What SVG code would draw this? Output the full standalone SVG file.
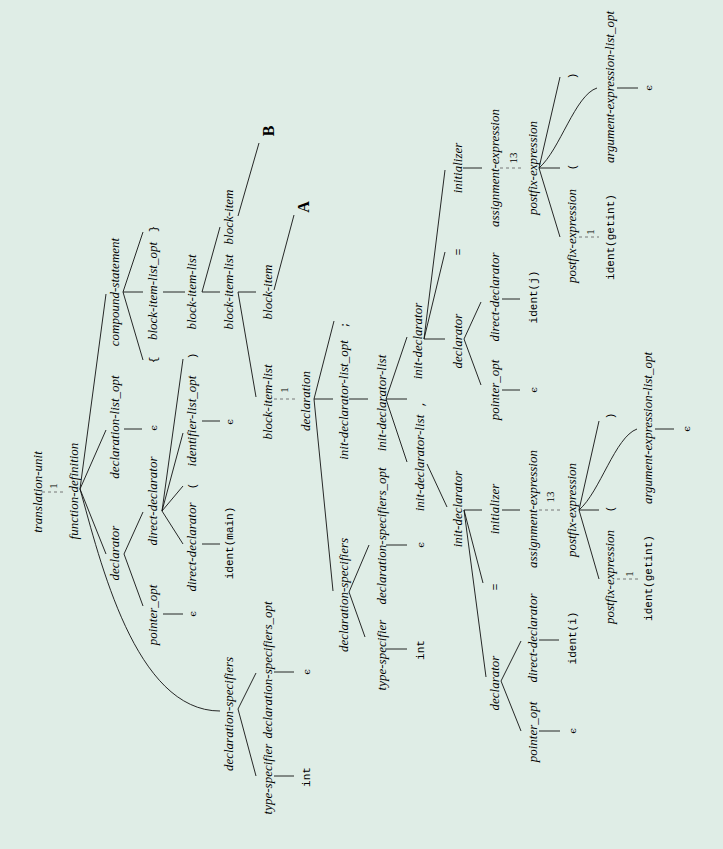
<svg xmlns="http://www.w3.org/2000/svg" width="723" height="849" viewBox="0 0 723 849">
<style>
.n{font-family:"Liberation Serif",serif;font-style:italic;font-size:13px;fill:#000;text-anchor:middle}
.t{font-family:"Liberation Mono",monospace;font-size:11px;fill:#000;text-anchor:middle}
.e{font-family:"DejaVu Serif","Liberation Serif",serif;font-size:10px;fill:#000;text-anchor:middle}
.l{font-family:"Liberation Serif",serif;font-size:11px;fill:#000;text-anchor:middle}
.b{font-family:"Liberation Serif",serif;font-weight:bold;font-size:16px;fill:#000;text-anchor:middle}
.edge{stroke:#111;stroke-width:0.9;fill:none}
.dash{stroke:#777;stroke-width:1;stroke-dasharray:3 3;fill:none}
</style>
<rect width="723" height="849" fill="#dfede6"/>
<g id="connectors">
<path class="dash" d="M42,492 L63,492"/>
<path class="edge" d="M80,489 C100,560 135,711 220,711"/>
<path class="edge" d="M80,489 L106,554"/>
<path class="edge" d="M80,489 L106,430"/>
<path class="edge" d="M80,489 L106,294"/>
<path class="edge" d="M238,709 L256,776"/>
<path class="edge" d="M238,709 L256,673"/>
<path class="edge" d="M274,776 L294,776"/>
<path class="edge" d="M274,672 L294,672"/>
<path class="edge" d="M124,554 L143,606"/>
<path class="edge" d="M124,554 L143,512"/>
<path class="edge" d="M163,614 L183,614"/>
<path class="edge" d="M162,511 L183,544"/>
<path class="edge" d="M162,511 L183,486"/>
<path class="edge" d="M162,511 L183,433"/>
<path class="edge" d="M162,511 L183,359"/>
<path class="edge" d="M202,544 L220,544"/>
<path class="edge" d="M202,421 L220,421"/>
<path class="edge" d="M124,429 L142,429"/>
<path class="edge" d="M123,292 L143,360"/>
<path class="edge" d="M123,292 L143,292"/>
<path class="edge" d="M123,292 L143,232"/>
<path class="edge" d="M163,292 L185,292"/>
<path class="edge" d="M202,292 L220,292"/>
<path class="edge" d="M202,292 L220,227"/>
<path class="edge" d="M238,216 L259,143"/>
<path class="edge" d="M238,292 L256,397"/>
<path class="edge" d="M238,292 L256,292"/>
<path class="edge" d="M274,290 L294,215"/>
<path class="dash" d="M274,399 L296,399"/>
<path class="edge" d="M314,399 L333,591"/>
<path class="edge" d="M314,399 L333,399"/>
<path class="edge" d="M314,399 L334,321"/>
<path class="edge" d="M349,592 L369,545"/>
<path class="edge" d="M349,592 L365,637"/>
<path class="edge" d="M386,545 L407,545"/>
<path class="edge" d="M386,649 L407,649"/>
<path class="edge" d="M349,399 L368,399"/>
<path class="edge" d="M386,399 L407,462"/>
<path class="edge" d="M386,399 L407,399"/>
<path class="edge" d="M386,399 L407,337"/>
<path class="edge" d="M427,464 L447,507"/>
<path class="edge" d="M464,510 L486,677"/>
<path class="edge" d="M464,510 L483,583"/>
<path class="edge" d="M464,510 L482,510"/>
<path class="edge" d="M502,510 L520,510"/>
<path class="dash" d="M539,510 L560,510"/>
<path class="edge" d="M579,510 L599,579"/>
<path class="edge" d="M579,510 L599,510"/>
<path class="edge" d="M579,510 C600,492 615,437 637,429"/>
<path class="edge" d="M579,510 L599,421"/>
<path class="dash" d="M617,579 L639,579"/>
<path class="edge" d="M655,429 L674,429"/>
<path class="edge" d="M501,681 L521,641"/>
<path class="edge" d="M501,681 L521,731"/>
<path class="edge" d="M539,640 L559,640"/>
<path class="edge" d="M539,731 L560,731"/>
<path class="edge" d="M424,339 L445,339"/>
<path class="edge" d="M424,339 L445,252"/>
<path class="edge" d="M424,339 L445,170"/>
<path class="edge" d="M463,168 L482,168"/>
<path class="dash" d="M500,168 L522,168"/>
<path class="edge" d="M539,168 L560,237"/>
<path class="edge" d="M539,168 L560,168"/>
<path class="edge" d="M539,168 C560,150 575,95 597,88"/>
<path class="edge" d="M539,168 L560,77"/>
<path class="dash" d="M579,237 L599,237"/>
<path class="edge" d="M617,88 L638,88"/>
<path class="edge" d="M464,339 L481,302"/>
<path class="edge" d="M464,339 L481,385"/>
<path class="edge" d="M502,299 L520,299"/>
<path class="edge" d="M502,390 L520,390"/>
<text class="l" x="57" y="486" transform="rotate(-90 57 486)">1</text>
<text class="l" x="288" y="390" transform="rotate(-90 288 390)">1</text>
<text class="l" x="554" y="497" transform="rotate(-90 554 497)">13</text>
<text class="l" x="517" y="158" transform="rotate(-90 517 158)">13</text>
<text class="l" x="633" y="574" transform="rotate(-90 633 574)">1</text>
<text class="l" x="594" y="232" transform="rotate(-90 594 232)">1</text>
</g>
<g id="translation-unit"><text class="n" x="42" y="492" transform="rotate(-90 42 492)">translation-unit</text></g>
<g id="function-definition"><text class="n" x="78" y="491" transform="rotate(-90 78 491)">function-definition</text></g>
<g id="declaration-specifiers-1"><text class="n" x="233" y="714" transform="rotate(-90 233 714)">declaration-specifiers</text></g>
<g id="type-specifier-1"><text class="n" x="272" y="779" transform="rotate(-90 272 779)">type-specifier</text></g>
<g id="int-1"><text class="t" x="310" y="777" transform="rotate(-90 310 777)">int</text></g>
<g id="declaration-specifiers-opt-1"><text class="n" x="272" y="670" transform="rotate(-90 272 670)">declaration-specifiers_opt</text></g>
<g id="eps-1"><text class="e" x="310" y="672" transform="rotate(-90 310 672)">ϵ</text></g>
<g id="declarator-1"><text class="n" x="119" y="553" transform="rotate(-90 119 553)">declarator</text></g>
<g id="pointer-opt-1"><text class="n" x="157" y="615" transform="rotate(-90 157 615)">pointer_opt</text></g>
<g id="eps-2"><text class="e" x="196" y="614" transform="rotate(-90 196 614)">ϵ</text></g>
<g id="direct-declarator-1"><text class="n" x="157" y="501" transform="rotate(-90 157 501)">direct-declarator</text></g>
<g id="direct-declarator-2"><text class="n" x="196" y="547" transform="rotate(-90 196 547)">direct-declarator</text></g>
<g id="ident-main"><text class="t" x="233" y="543" transform="rotate(-90 233 543)">ident(main)</text></g>
<g id="lparen-1"><text class="t" x="196" y="486" transform="rotate(-90 196 486)">(</text></g>
<g id="identifier-list-opt"><text class="n" x="196" y="421" transform="rotate(-90 196 421)">identifier-list_opt</text></g>
<g id="eps-3"><text class="e" x="233" y="422" transform="rotate(-90 233 422)">ϵ</text></g>
<g id="rparen-1"><text class="t" x="196" y="356" transform="rotate(-90 196 356)">)</text></g>
<g id="declaration-list-opt"><text class="n" x="119" y="427" transform="rotate(-90 119 427)">declaration-list_opt</text></g>
<g id="eps-4"><text class="e" x="157" y="428" transform="rotate(-90 157 428)">ϵ</text></g>
<g id="compound-statement"><text class="n" x="119" y="292" transform="rotate(-90 119 292)">compound-statement</text></g>
<g id="lbrace"><text class="t" x="157" y="360" transform="rotate(-90 157 360)">{</text></g>
<g id="block-item-list-opt"><text class="n" x="157" y="291" transform="rotate(-90 157 291)">block-item-list_opt</text></g>
<g id="rbrace"><text class="t" x="157" y="229" transform="rotate(-90 157 229)">}</text></g>
<g id="block-item-list-1"><text class="n" x="196" y="292" transform="rotate(-90 196 292)">block-item-list</text></g>
<g id="block-item-list-2"><text class="n" x="233" y="292" transform="rotate(-90 233 292)">block-item-list</text></g>
<g id="block-item-b"><text class="n" x="233" y="217" transform="rotate(-90 233 217)">block-item</text></g>
<g id="B"><text class="b" x="274" y="131" transform="rotate(-90 274 131)">B</text></g>
<g id="block-item-list-3"><text class="n" x="272" y="402" transform="rotate(-90 272 402)">block-item-list</text></g>
<g id="block-item-a"><text class="n" x="272" y="292" transform="rotate(-90 272 292)">block-item</text></g>
<g id="A"><text class="b" x="309" y="207" transform="rotate(-90 309 207)">A</text></g>
<g id="declaration"><text class="n" x="310" y="401" transform="rotate(-90 310 401)">declaration</text></g>
<g id="declaration-specifiers-2"><text class="n" x="348" y="595" transform="rotate(-90 348 595)">declaration-specifiers</text></g>
<g id="declaration-specifiers-opt-2"><text class="n" x="386" y="536" transform="rotate(-90 386 536)">declaration-specifiers_opt</text></g>
<g id="eps-5"><text class="e" x="424" y="545" transform="rotate(-90 424 545)">ϵ</text></g>
<g id="type-specifier-2"><text class="n" x="386" y="655" transform="rotate(-90 386 655)">type-specifier</text></g>
<g id="int-2"><text class="t" x="424" y="650" transform="rotate(-90 424 650)">int</text></g>
<g id="semicolon"><text class="t" x="348" y="325" transform="rotate(-90 348 325)">;</text></g>
<g id="init-declarator-list-opt"><text class="n" x="348" y="400" transform="rotate(-90 348 400)">init-declarator-list_opt</text></g>
<g id="init-declarator-list-1"><text class="n" x="386" y="403" transform="rotate(-90 386 403)">init-declarator-list</text></g>
<g id="comma"><text class="t" x="424" y="404" transform="rotate(-90 424 404)">,</text></g>
<g id="init-declarator-list-2"><text class="n" x="424" y="463" transform="rotate(-90 424 463)">init-declarator-list</text></g>
<g id="init-declarator-1"><text class="n" x="462" y="509" transform="rotate(-90 462 509)">init-declarator</text></g>
<g id="init-declarator-2"><text class="n" x="422" y="341" transform="rotate(-90 422 341)">init-declarator</text></g>
<g id="declarator-i"><text class="n" x="499" y="683" transform="rotate(-90 499 683)">declarator</text></g>
<g id="pointer-opt-i"><text class="n" x="537" y="732" transform="rotate(-90 537 732)">pointer_opt</text></g>
<g id="eps-6"><text class="e" x="576" y="731" transform="rotate(-90 576 731)">ϵ</text></g>
<g id="direct-declarator-i"><text class="n" x="537" y="638" transform="rotate(-90 537 638)">direct-declarator</text></g>
<g id="ident-i"><text class="t" x="576" y="638" transform="rotate(-90 576 638)">ident(i)</text></g>
<g id="equals-1"><text class="t" x="499" y="587" transform="rotate(-90 499 587)">=</text></g>
<g id="initializer-1"><text class="n" x="499" y="509" transform="rotate(-90 499 509)">initializer</text></g>
<g id="assignment-expression-1"><text class="n" x="537" y="509" transform="rotate(-90 537 509)">assignment-expression</text></g>
<g id="postfix-expression-1"><text class="n" x="576" y="510" transform="rotate(-90 576 510)">postfix-expression</text></g>
<g id="postfix-expression-1c"><text class="n" x="614" y="577" transform="rotate(-90 614 577)">postfix-expression</text></g>
<g id="ident-getint-1"><text class="t" x="652" y="578" transform="rotate(-90 652 578)">ident(getint)</text></g>
<g id="lparen-2"><text class="t" x="614" y="509" transform="rotate(-90 614 509)">(</text></g>
<g id="argument-expression-list-opt-1"><text class="n" x="652" y="428" transform="rotate(-90 652 428)">argument-expression-list_opt</text></g>
<g id="eps-7"><text class="e" x="690" y="429" transform="rotate(-90 690 429)">ϵ</text></g>
<g id="rparen-2"><text class="t" x="614" y="416" transform="rotate(-90 614 416)">)</text></g>
<g id="declarator-j"><text class="n" x="462" y="341" transform="rotate(-90 462 341)">declarator</text></g>
<g id="pointer-opt-j"><text class="n" x="499" y="390" transform="rotate(-90 499 390)">pointer_opt</text></g>
<g id="eps-8"><text class="e" x="537" y="390" transform="rotate(-90 537 390)">ϵ</text></g>
<g id="direct-declarator-j"><text class="n" x="499" y="297" transform="rotate(-90 499 297)">direct-declarator</text></g>
<g id="ident-j"><text class="t" x="537" y="297" transform="rotate(-90 537 297)">ident(j)</text></g>
<g id="equals-2"><text class="t" x="462" y="252" transform="rotate(-90 462 252)">=</text></g>
<g id="initializer-2"><text class="n" x="462" y="168" transform="rotate(-90 462 168)">initializer</text></g>
<g id="assignment-expression-2"><text class="n" x="499" y="168" transform="rotate(-90 499 168)">assignment-expression</text></g>
<g id="postfix-expression-2"><text class="n" x="537" y="168" transform="rotate(-90 537 168)">postfix-expression</text></g>
<g id="postfix-expression-2c"><text class="n" x="576" y="236" transform="rotate(-90 576 236)">postfix-expression</text></g>
<g id="ident-getint-2"><text class="t" x="614" y="237" transform="rotate(-90 614 237)">ident(getint)</text></g>
<g id="lparen-3"><text class="t" x="576" y="167" transform="rotate(-90 576 167)">(</text></g>
<g id="argument-expression-list-opt-2"><text class="n" x="614" y="87" transform="rotate(-90 614 87)">argument-expression-list_opt</text></g>
<g id="eps-9"><text class="e" x="652" y="88" transform="rotate(-90 652 88)">ϵ</text></g>
<g id="rparen-3"><text class="t" x="576" y="76" transform="rotate(-90 576 76)">)</text></g>
</svg>
